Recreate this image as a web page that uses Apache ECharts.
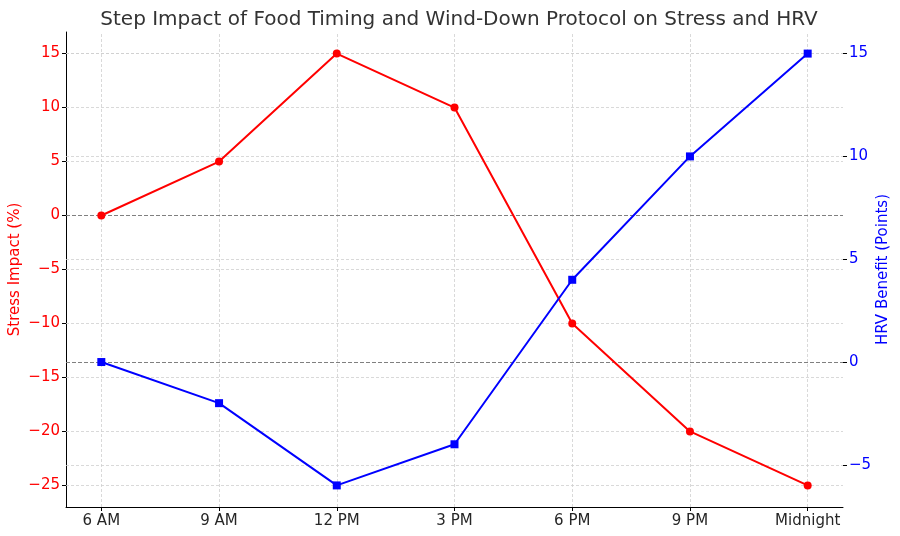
<!DOCTYPE html>
<html>
<head>
<meta charset="utf-8">
<script src="https://cdn.jsdelivr.net/npm/echarts@6/dist/echarts.min.js"></script>
<style>html,body{margin:0;padding:0;background:#fff}#c{width:900px;height:536px}</style>
</head>
<body>
<div id="c"></div>
<script>
var categories = ['6 AM', '9 AM', '12 PM', '3 PM', '6 PM', '9 PM', 'Midnight'];
var stressImpact = [0, 5, 15, 10, -10, -20, -25];
var hrvBenefit = [0, -2, -6, -4, 4, 10, 15];
var stressTicks = [-25, -20, -15, -10, -5, 0, 5, 10, 15];
var hrvTicks = [-5, 0, 5, 10, 15];
var xTicks = categories.map(function (c, i) { return i; });

var FONT = 'DejaVu Sans';
var chart = echarts.init(document.getElementById('c'), null, { renderer: 'canvas' });

function pairs(vals) { return vals.map(function (v, i) { return [i, v]; }); }
function fmtNum(v) { return v < 0 ? '\u2212' + Math.abs(v) : String(v); }

var gridDash = { color: '#cfcfcf', type: [3, 2], width: 0.8 };
var zeroDash = { color: '#808080', type: [4, 2], width: 1 };

chart.setOption({
  animation: false,
  title: {
    text: 'Step Impact of Food Timing and Wind-Down Protocol on Stress and HRV',
    left: 454, top: 5, textAlign: 'center',
    textStyle: { fontFamily: FONT, fontSize: 20, fontWeight: 'normal', color: '#333333' }
  },
  grid: { left: 66, right: 57, top: 32, bottom: 29, containLabel: false, outerBoundsMode: 'none' },
  xAxis: {
    type: 'value', min: -0.3, max: 6.3,
    axisLine: { show: true, onZero: false, lineStyle: { color: '#000', width: 1 } },
    axisTick: { show: true, customValues: xTicks, length: 4, lineStyle: { color: '#000' } },
    axisLabel: {
      customValues: xTicks, margin: 7,
      formatter: function (v) { return categories[v]; },
      fontFamily: FONT, fontSize: 15, color: '#262626'
    },
    splitLine: { show: false }
  },
  yAxis: [{
    type: 'value', min: -27, max: 17, position: 'left',
    name: 'Stress Impact (%)', nameLocation: 'middle', nameGap: 43, nameMoveOverlap: false,
    nameTextStyle: { fontFamily: FONT, fontSize: 15, color: '#ff0000' },
    axisLine: { show: true, onZero: false, lineStyle: { color: '#000', width: 1 } },
    axisTick: { show: true, customValues: stressTicks, length: 4, lineStyle: { color: '#000' } },
    axisLabel: {
      customValues: stressTicks, margin: 6, formatter: fmtNum,
      fontFamily: FONT, fontSize: 15, color: '#ff0000'
    },
    splitLine: { show: false }
  }, {
    type: 'value', min: -7.05, max: 16.05, position: 'right',
    name: 'HRV Benefit (Points)', nameLocation: 'middle', nameGap: 33, nameRotate: 90, nameMoveOverlap: false,
    nameTextStyle: { fontFamily: FONT, fontSize: 15, color: '#0000ff', verticalAlign: 'top' },
    axisLine: { show: false, onZero: false },
    axisTick: { show: true, customValues: hrvTicks, length: 4, lineStyle: { color: '#000' } },
    axisLabel: {
      customValues: hrvTicks, margin: 6, formatter: fmtNum,
      fontFamily: FONT, fontSize: 15, color: '#0000ff'
    },
    splitLine: { show: false }
  }],
  series: [{
    type: 'line', yAxisIndex: 0, data: [], z: 1, silent: true,
    markLine: {
      silent: true, symbol: 'none', label: { show: false }, animation: false, z: 1,
      data: xTicks.map(function (i) { return { xAxis: i, lineStyle: gridDash }; })
        .concat(stressTicks.map(function (v) { return { yAxis: v, lineStyle: v === 0 ? zeroDash : gridDash }; }))
    }
  }, {
    type: 'line', yAxisIndex: 1, data: [], z: 1, silent: true,
    markLine: {
      silent: true, symbol: 'none', label: { show: false }, animation: false, z: 1,
      data: hrvTicks.map(function (v) { return { yAxis: v, lineStyle: v === 0 ? zeroDash : gridDash }; })
    }
  }, {
    name: 'Stress Impact', type: 'line', yAxisIndex: 0, z: 3,
    data: pairs(stressImpact),
    symbol: 'circle', symbolSize: 8, showSymbol: true,
    lineStyle: { color: '#ff0000', width: 2 },
    itemStyle: { color: '#ff0000', borderColor: '#ff0000', borderWidth: 0, opacity: 1 }
  }, {
    name: 'HRV Benefit', type: 'line', yAxisIndex: 1, z: 4,
    data: pairs(hrvBenefit),
    symbol: 'rect', symbolSize: 8, showSymbol: true,
    lineStyle: { color: '#0000ff', width: 2 },
    itemStyle: { color: '#0000ff', borderColor: '#0000ff', borderWidth: 0, opacity: 1 }
  }]
});
</script>
</body>
</html>
